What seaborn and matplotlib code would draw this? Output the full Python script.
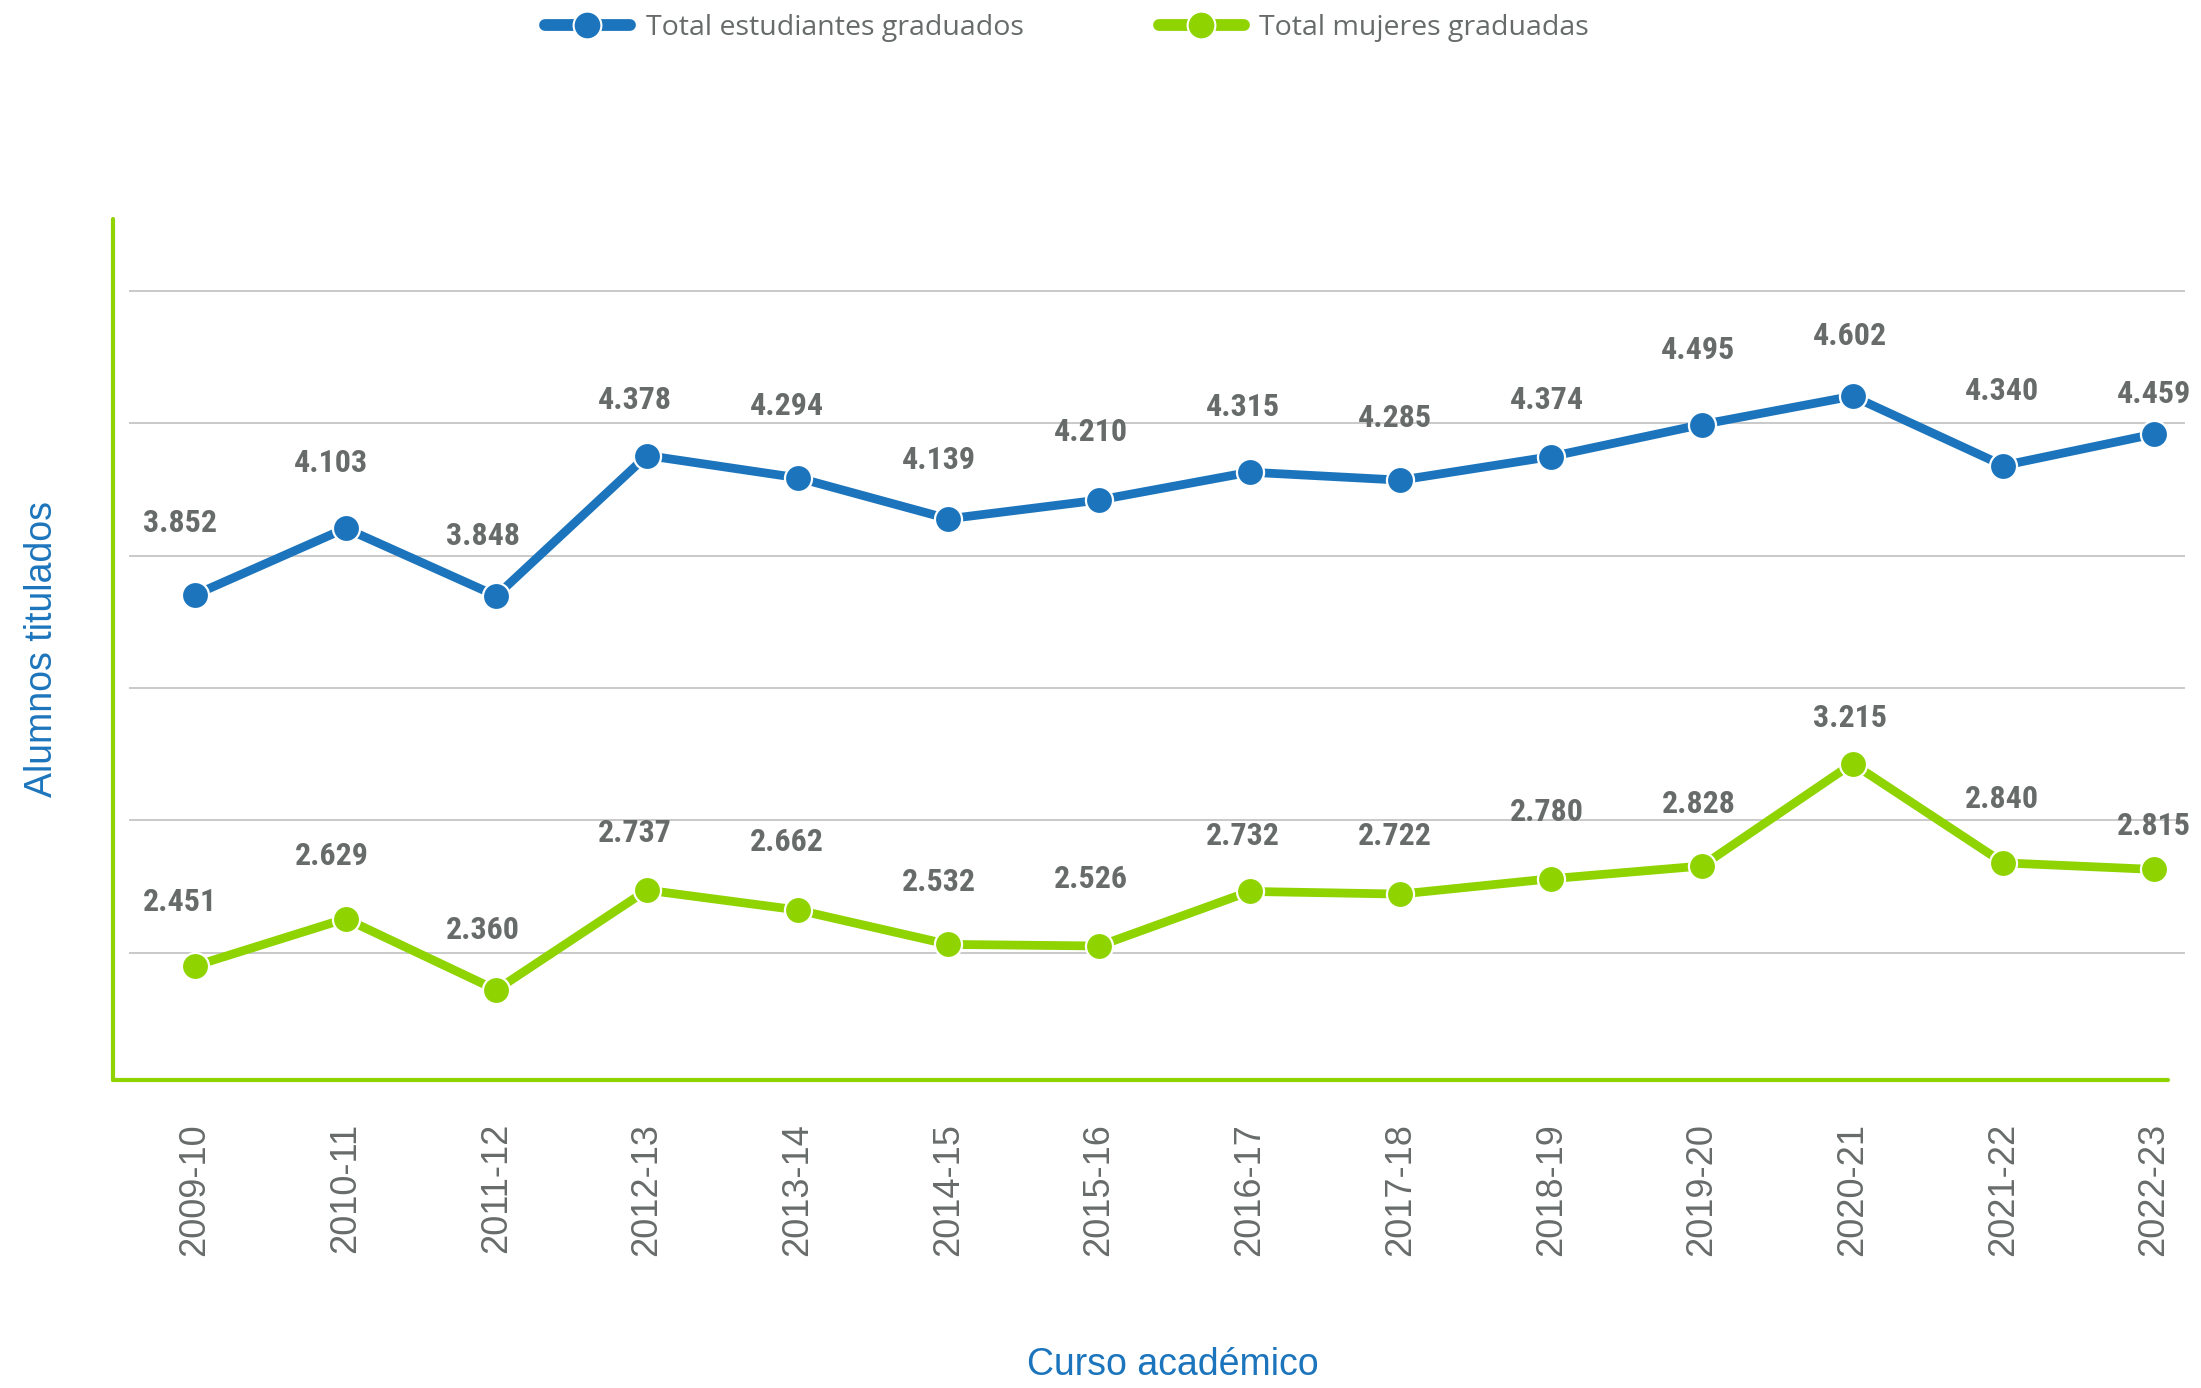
import matplotlib
matplotlib.use("Agg")
import matplotlib.pyplot as plt
import seaborn as sns
import pandas as pd
from matplotlib.lines import Line2D

# ---------------- data ----------------
cursos = ["2009-10", "2010-11", "2011-12", "2012-13", "2013-14", "2014-15", "2015-16",
          "2016-17", "2017-18", "2018-19", "2019-20", "2020-21", "2021-22", "2022-23"]
total_graduados = [3852, 4103, 3848, 4378, 4294, 4139, 4210, 4315, 4285, 4374, 4495, 4602, 4340, 4459]
mujeres_graduadas = [2451, 2629, 2360, 2737, 2662, 2532, 2526, 2732, 2722, 2780, 2828, 3215, 2840, 2815]
series_names = ["Total estudiantes graduados", "Total mujeres graduadas"]
grid_values = [2500, 3000, 3500, 4000, 4500, 5000]

# ---------------- style ----------------
BLUE = "#1c75bc"
GREEN = "#8fd400"
GRAY = "#676c6b"
GRID = "#c9c9c9"

# vertical offsets (points) of the value labels above each marker
label_dy_total = [52, 47, 43, 40, 52, 42, 49, 47, 45, 41, 54, 43, 54, 29]
label_dy_mujeres = [46, 45, 43, 41, 49, 45, 48, 40, 42, 48, 45, 33, 46, 31]

sns.set_style("white")
plt.rcParams["font.family"] = ["Liberation Sans", "DejaVu Sans"]

df = pd.DataFrame({
    "curso": cursos * 2,
    "valor": total_graduados + mujeres_graduadas,
    "serie": [series_names[0]] * len(cursos) + [series_names[1]] * len(cursos),
})

W, H = 2201, 1388
fig = plt.figure(figsize=(W / 100, H / 100), dpi=100)
ax = fig.add_axes([113 / W, 1 - 1080 / H, (2185 - 113) / W, (1080 - 219) / H])

sns.lineplot(data=df, x="curso", y="valor", hue="serie", palette=[BLUE, GREEN],
             marker="o", markersize=19.5, markeredgecolor="white", markeredgewidth=1.6,
             linewidth=6.3, sort=False, legend=False, ax=ax, zorder=3)

xmin, xmax = -0.543, 13.206
ax.set_xlim(xmin, xmax)
ax.set_ylim(2020, 5271)

ax.hlines(grid_values, -0.437, xmax, colors=GRID, linewidth=1.4, zorder=0)

for s in ["top", "right"]:
    ax.spines[s].set_visible(False)
for s in ["left", "bottom"]:
    ax.spines[s].set_color(GREEN)
    ax.spines[s].set_linewidth(3)
    ax.spines[s].set_capstyle("round")
ax.spines["bottom"].set_bounds(xmin, 13.093)

ax.set_yticks([])
ax.set_xticks(range(len(cursos)))
ax.set_xticklabels(cursos, rotation=90, fontsize=26, color=GRAY)
ax.tick_params(axis="x", length=0, pad=31)
ax.set_xlabel("")
ax.set_ylabel("")

label_font = ["Liberation Sans Narrow", "Roboto Condensed", "Roboto", "DejaVu Sans"]
n = len(cursos)
for values, dys in [(total_graduados, label_dy_total), (mujeres_graduadas, label_dy_mujeres)]:
    for i, (v, dy) in enumerate(zip(values, dys)):
        dx = -11 * (1 - i / (n - 1))
        ax.annotate(f"{v:,}".replace(",", "."), (i, v), xytext=(dx, dy),
                    textcoords="offset points", ha="center", va="center",
                    fontsize=23, fontweight="bold", color=GRAY, family=label_font,
                    zorder=5)

fig.text(1173 / W, 1 - 1365 / H, "Curso académico", ha="center", va="center",
         fontsize=27, color=BLUE)
fig.text(42 / W, 1 - 649 / H, "Alumnos titulados", ha="center", va="center",
         rotation=90, fontsize=27, color=BLUE)

handles = [Line2D([0], [0], color=c, lw=8.5, marker="o", markersize=20,
                  markeredgecolor="white", markeredgewidth=1.5, solid_capstyle="round")
           for c in (BLUE, GREEN)]
fig.legend(handles, series_names, loc="center", bbox_to_anchor=(1067 / W, 1 - 28 / H),
           ncol=2, frameon=False, handlelength=3.0, handletextpad=0.54,
           columnspacing=4.75, prop={"family": ["Open Sans", "DejaVu Sans"], "size": 20.5},
           labelcolor=GRAY)

fig.savefig("out.png", dpi=100)
